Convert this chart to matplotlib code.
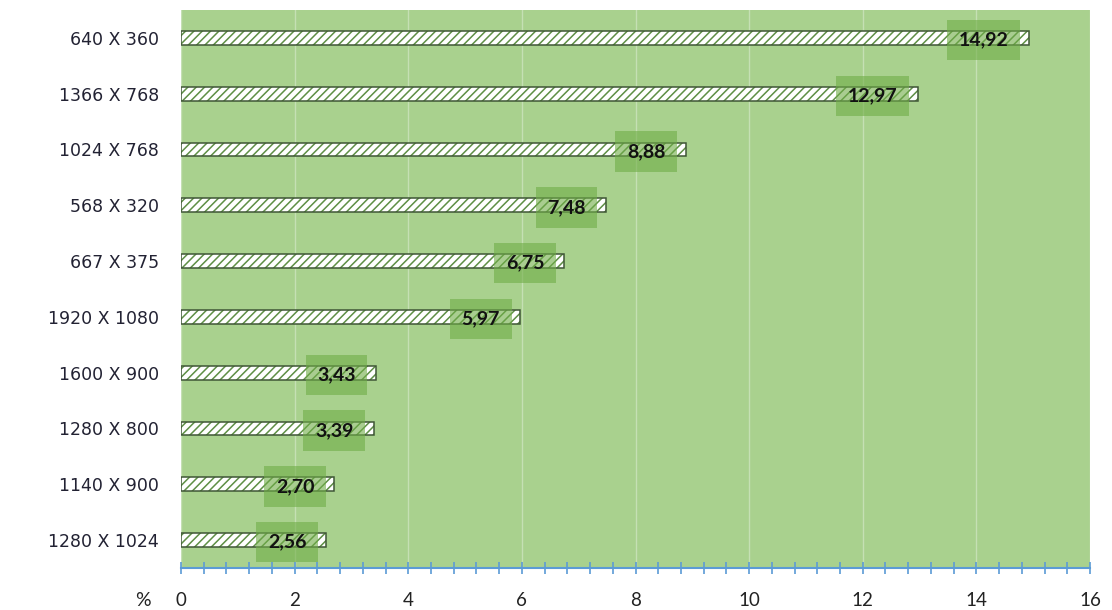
import numpy as np
import matplotlib
matplotlib.use('Agg')
import matplotlib.pyplot as plt
from matplotlib.ticker import MultipleLocator

resolutions = ['640 X 360', '1366 X 768', '1024 X 768', '568 X 320', '667 X 375',
               '1920 X 1080', '1600 X 900', '1280 X 800', '1140 X 900', '1280 X 1024']
shares = [14.92, 12.97, 8.88, 7.48, 6.75, 5.97, 3.43, 3.39, 2.70, 2.56]
x_ticks = [0, 2, 4, 6, 8, 10, 12, 14, 16]

plt.rcParams['font.family'] = ['Lato', 'DejaVu Sans']
plt.rcParams['hatch.linewidth'] = 1.1

fig = plt.figure(figsize=(11.12, 6.10), dpi=100)
ax = fig.add_axes([0.1628, 0.0689, 0.8174, 0.9147])
ax.set_facecolor('#A9D18E')

ypos = np.arange(len(resolutions))[::-1]
# hatched fill (green stripes) then dark outline on top
ax.barh(ypos, shares, height=0.25, color='white', edgecolor='#5E8F45',
        hatch='////', linewidth=0, zorder=3)
ax.barh(ypos, shares, height=0.25, fill=False, edgecolor='#3F5636',
        linewidth=1.1, zorder=3)

# data labels in darker green boxes
for y, v in zip(ypos, shares):
    ax.annotate(f'{v:.2f}'.replace('.', ','), xy=(v, y), xytext=(-14.5, -1.5),
                textcoords='offset points', ha='right', va='center',
                fontsize=14, fontweight='bold', color='#111111', zorder=5,
                bbox=dict(boxstyle='square,pad=0.6', facecolor='#70AD47',
                          alpha=0.6, edgecolor='none'))

ax.set_xlim(0, 16)
ax.set_ylim(-0.5, len(resolutions) - 0.5)
ax.set_xticks(x_ticks)
ax.set_xticklabels([str(t) for t in x_ticks], fontsize=13.5, color='#222222')
ax.xaxis.set_minor_locator(MultipleLocator(0.4))
ax.grid(axis='x', which='major', color='#C5E0B4', linewidth=1.0, zorder=1)
ax.set_axisbelow(True)

ax.set_yticks(ypos)
ax.set_yticklabels(resolutions, fontsize=12.5, color='#222233', family='DejaVu Sans')
ax.tick_params(axis='y', length=0, pad=16)
ax.tick_params(axis='x', which='major', direction='inout', length=9, width=1.2,
               color='#5B9BD5', pad=13)
ax.tick_params(axis='x', which='minor', direction='inout', length=8, width=1.2,
               color='#5B9BD5')

for s in ['top', 'right', 'left']:
    ax.spines[s].set_visible(False)
ax.spines['bottom'].set_color('#5B9BD5')
ax.spines['bottom'].set_linewidth(1.5)

fig.text(143 / 1112, 1 - 600 / 610, '%', fontsize=14, color='#222222',
         ha='center', va='center')

fig.savefig('out.png', dpi=100)
